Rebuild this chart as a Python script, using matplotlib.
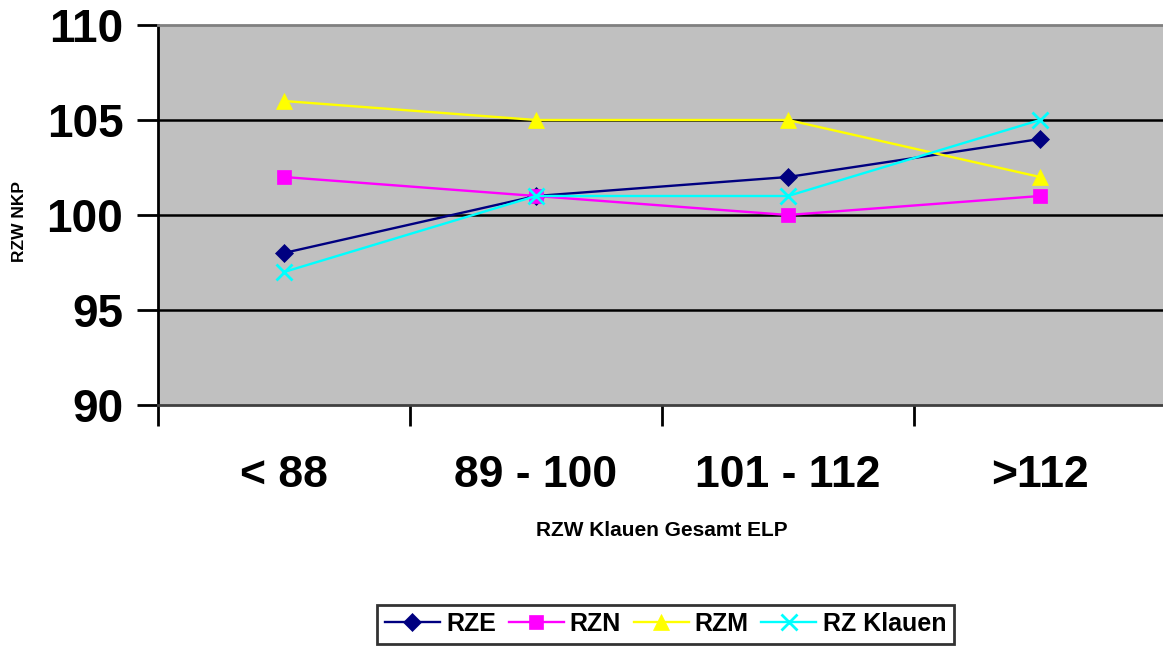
import matplotlib
matplotlib.use("Agg")
import matplotlib.pyplot as plt
from matplotlib.ticker import FixedLocator

categories = ["< 88", "89 - 100", "101 - 112", ">112"]
rze = [98, 101, 102, 104]
rzn = [102, 101, 100, 101]
rzm = [106, 105, 105, 102]
rz_klauen = [97, 101, 101, 105]
y_ticks = [90, 95, 100, 105, 110]

plt.rcParams["font.family"] = ["Liberation Sans", "DejaVu Sans"]
plt.rcParams["font.weight"] = "bold"

fig = plt.figure(figsize=(11.63, 6.48), dpi=100)
W, H = 1163, 648
ax = fig.add_axes([158 / W, 1 - 405 / H, (1163 - 158) / W, (405 - 25) / H])
ax.set_facecolor("#C0C0C0")

x = list(range(1, len(categories) + 1))
series = [
    ("RZE", rze, "#000080", "D", 9),
    ("RZN", rzn, "#FF00FF", "s", 10.5),
    ("RZM", rzm, "#FFFF00", "^", 12),
    ("RZ Klauen", rz_klauen, "#00FFFF", "x", 11),
]
for name, vals, col, mk, ms in series:
    ax.plot(x, vals, color=col, lw=1.7, marker=mk, markersize=ms,
            markeredgewidth=2 if mk == "x" else 0.5,
            markerfacecolor=col, markeredgecolor=col, label=name,
            clip_on=False, zorder=3)

ax.set_xlim(0.5, 0.5 + (1163 - 158) / 252)
ax.set_ylim(90, 110)
ax.set_yticks(y_ticks)
ax.set_yticklabels([str(v) for v in y_ticks], fontsize=33, fontweight="bold")
for v in y_ticks[1:-1]:
    ax.axhline(v, color="black", lw=1.8, zorder=1)

ax.set_xticks(x)
ax.set_xticklabels(categories, fontsize=32, fontweight="bold")
ax.tick_params(axis="x", which="major", length=0, pad=36)
ax.xaxis.set_minor_locator(FixedLocator([0.5, 1.5, 2.5, 3.5]))
ax.tick_params(axis="x", which="minor", length=15, width=2, color="black")
ax.tick_params(axis="y", length=15, width=2, color="black", pad=10)

ax.spines["right"].set_visible(False)
ax.spines["top"].set_color("#808080")
ax.spines["top"].set_linewidth(2)
ax.spines["bottom"].set_color("#404040")
ax.spines["bottom"].set_linewidth(2)
ax.spines["left"].set_color("black")
ax.spines["left"].set_linewidth(2)

fig.text(662 / W, 1 - 531 / H, "RZW Klauen Gesamt ELP", ha="center", va="center",
         fontsize=15, fontweight="bold")
fig.text(20 / W, 1 - 222 / H, "RZW NKP", ha="center", va="center",
         fontsize=12.5, fontweight="bold", rotation=90)

leg = fig.legend(loc="center", bbox_to_anchor=(665.5 / W, 1 - 624 / H), ncol=4,
                 frameon=True, fancybox=False,
                 prop={"weight": "bold", "size": 18},
                 handlelength=2.2, columnspacing=0.5, handletextpad=0.25,
                 borderpad=0.3, borderaxespad=0)
leg.get_frame().set_edgecolor("black")
leg.get_frame().set_linewidth(2)

fig.savefig("out.png", dpi=100, facecolor="white")
